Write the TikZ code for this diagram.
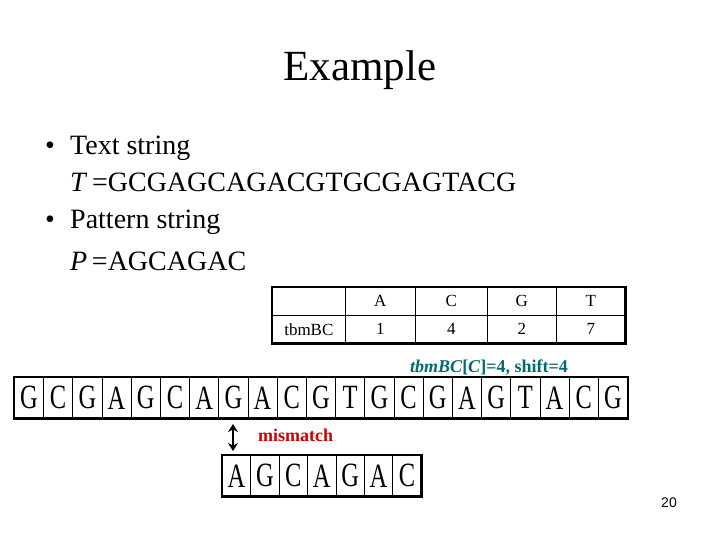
\documentclass[tikz,border=0pt]{standalone}
\usepackage{fontspec}
\setmainfont{Liberation Serif}
\setsansfont{Liberation Sans}
\usetikzlibrary{arrows.meta}
\newcommand{\seqch}[1]{\scalebox{0.72}[1]{\fontsize{34}{36}\selectfont #1}}
\begin{document}
\begin{tikzpicture}[x=1pt,y=-1pt,
  cell/.style={draw,line width=0.7pt,minimum height=41pt,inner sep=0pt,anchor=north west},
  tcell/.style={draw,line width=0.7pt,minimum height=28pt,inner sep=0pt,anchor=north west,font=\fontsize{17}{19}\selectfont},
  body/.style={anchor=west,font=\fontsize{28}{32}\selectfont,inner sep=0pt},
  frame/.style={line width=2.6pt}]
\useasboundingbox (0,0) rectangle (720,540);
\node (title) at (360,70) {\fontsize{43}{46}\selectfont Example};
\node[body] (b1) at (45,148) {\textbullet};
\node[body] (l1) at (70,148) {Text string};
\node[body] (l2) at (70,182) {\textit{T}\,=GCGAGCAGACGTGCGAGTACG};
\node[body] (b2) at (45,222) {\textbullet};
\node[body] (l3) at (70,222) {Pattern string};
\node[body] (l4) at (70,261) {\textit{P}\,=AGCAGAC};
% table
\foreach \xa/\xb/\ta/\tb [count=\i] in {272/345//tbmBC,345/415/A/1,415/487/C/4,487/556/G/2,556/625/T/7}{
  \node[tcell,minimum width={\xb-\xa}] (ta\i) at (\xa,287) {\ta};
  \node[tcell,minimum width={\xb-\xa}] (tb\i) at (\xa,315) {\tb};
}
\draw[frame] (ta1.north west) rectangle (tb5.south east);
% text string
\foreach \c [count=\i from 0] in {G,C,G,A,G,C,A,G,A,C,G,T,G,C,G,A,G,T,A,C,G}{
  \node[cell,minimum width=29.2pt] (t\i) at ({14+29.2*\i},377) {\seqch{\c}};
}
\draw[frame] (t0.north west) rectangle (t20.south east);
\foreach \c [count=\i from 0] in {A,G,C,A,G,A,C}{
  \node[cell,minimum width=28.4pt] (p\i) at ({222+28.4*\i},455) {\seqch{\c}};
}
\draw[frame] (p0.north west) rectangle (p6.south east);
\node[font=\bfseries\fontsize{18}{20}\selectfont,text=teal!80!cyan!70!black] (ann) at (489,368) {\textit{tbmBC}[\textit{C}]=4, shift=4};
\node[font=\bfseries\fontsize{18}{20}\selectfont,text=red!80!black,anchor=west,inner sep=0pt] (mm) at (258,435) {mismatch};
\coordinate (a1) at (233,424);
\coordinate (a2) at (233,451);
\draw[line width=2.5pt,{Stealth[length=8pt,width=10pt]}-{Stealth[length=8pt,width=10pt]}] (a1) -- (a2);
\node[font=\sffamily\fontsize{14}{16}\selectfont] (pg) at (669,503) {20};
\end{tikzpicture}
\end{document}
